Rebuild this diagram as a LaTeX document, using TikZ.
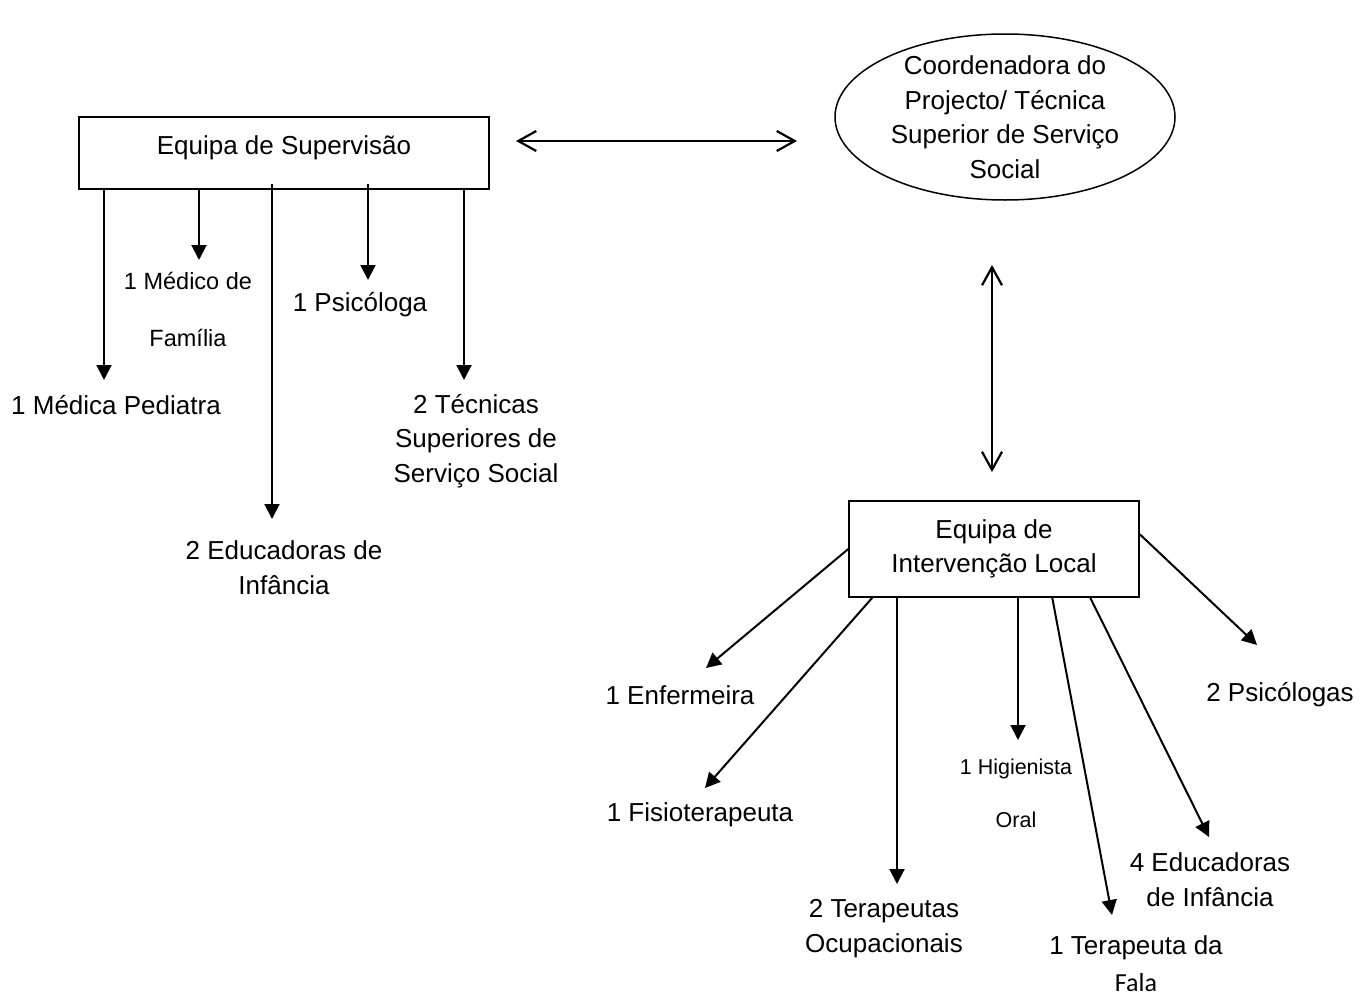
\documentclass[tikz,border=0pt]{standalone}
\usepackage{fontspec}
\setmainfont{Liberation Sans}
\newfontfamily\calibfont{Carlito}
\usetikzlibrary{arrows.meta,shapes.geometric,calc}
\begin{document}
\begin{tikzpicture}[x=1pt,y=-1pt,
  box/.style={draw,line width=1.5pt,inner sep=0pt,align=center,font=\fontsize{26}{34.5}\selectfont},
  lbl/.style={align=center,inner sep=0pt,font=\fontsize{26}{34.5}\selectfont},
  smalllbl/.style={align=center,inner sep=0pt},
  arr/.style={line width=2pt,-{Triangle[length=15pt,width=15pt]}},
  dbl/.style={line width=2.2pt,{Straight Barb[length=18pt,width=20pt]}-{Straight Barb[length=18pt,width=20pt]}},
]
\useasboundingbox (0,0) rectangle (1367,1001);
\fill[white] (0,0) rectangle (1367,1001);

% main nodes
\node[box,minimum width=410pt,minimum height=72pt,text height=19pt,text depth=16pt] (sup) at (284,153) {Equipa de Supervisão};
\node[draw,ellipse,line width=1.5pt,minimum width=340pt,minimum height=166pt,inner sep=-10pt,align=center,font=\fontsize{26}{34.5}\selectfont] (coord) at (1005,117) {Coordenadora do\\Projecto/ Técnica\\Superior de Serviço\\Social};
\node[box,minimum width=290pt,minimum height=96pt] (il) at (994,549) {Equipa de\\Intervenção Local};

% double arrows
\coordinate (hL) at (516,141);
\coordinate (hR) at (797,141);
\coordinate (vT) at (992,265);
\coordinate (vB) at (992,472);
\draw[dbl] (hL) -- (hR);
\draw[dbl] (vT) -- (vB);

% Supervisao tips and labels
\coordinate (tA) at (104,380);
\coordinate (tB) at (199,260);
\coordinate (tC) at (272,519);
\coordinate (tD) at (368,280);
\coordinate (tE) at (464,380);
\node[lbl] (pedi) at (116,405) {1 Médica Pediatra};
\node[smalllbl,font=\fontsize{23.5}{57}\selectfont] (medfam) at (188,309.5) {1 Médico de\\Família};
\node[lbl] (edu2) at (284,567.5) {2 Educadoras de\\Infância};
\node[lbl] (psi1) at (360,305) {1 Psicóloga};
\node[lbl] (tec) at (476,441) {2 Técnicas\\Superiores de\\Serviço Social};

\draw[arr] (sup.south -| tA) -- (tA);
\draw[arr] (sup.south -| tB) -- (tB);
\draw[arr] ([yshift=6pt]sup.south -| tC) -- (tC);
\draw[arr] ([yshift=6pt]sup.south -| tD) -- (tD);
\draw[arr] (sup.south -| tE) -- (tE);

% Intervencao local tips and labels
\coordinate (tEnf) at (706,668);
\coordinate (tFis) at (705,788);
\coordinate (tTO) at (897,884);
\coordinate (tHig) at (1018,740);
\coordinate (tFala) at (1112,915);
\coordinate (tEdu) at (1209,837);
\coordinate (tPsi) at (1257,645);
\node[lbl] (enf) at (680,695) {1 Enfermeira};
\node[lbl] (fis) at (700,815) {1 Fisioterapeuta};
\node[lbl] (to) at (884,928.5) {2 Terapeutas\\Ocupacionais};
\node[smalllbl,font=\fontsize{21.5}{53}\selectfont] (hig) at (1016,793.5) {1 Higienista\\Oral};
\node[lbl,font=\fontsize{26}{37}\selectfont] (fala) at (1136,963.5) {1 Terapeuta da\\{\calibfont Fala}};
\node[lbl] (edu4) at (1210,879.5) {4 Educadoras\\de Infância};
\node[lbl] (psi2) at (1280,695) {2 Psicólogas};

\draw[arr] (il.west) -- (tEnf);
\draw[arr] ($(il.south west)+(24,0)$) -- (tFis);
\draw[arr] (il.south -| tTO) -- (tTO);
\draw[arr] (il.south -| tHig) -- (tHig);
\draw[arr] ($(il.south west)+(204,0)$) -- (tFala);
\draw[arr] ($(il.south west)+(242,0)$) -- (tEdu);
\draw[arr] ($(il.north east)+(0,34)$) -- (tPsi);
\end{tikzpicture}
\end{document}
